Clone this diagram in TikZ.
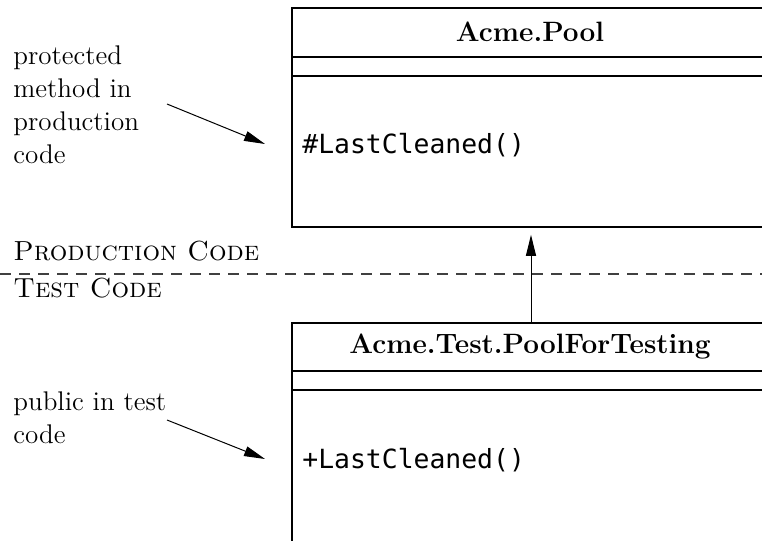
\documentclass[tikz,border=0pt]{standalone}
\usepackage{fontspec}
\usetikzlibrary{arrows.meta}
\newfontfamily\codefont{DejaVu Sans Mono}

\begin{document}
\begin{tikzpicture}[x=0.5pt,y=-0.5pt]
\tikzstyle{classbox}=[draw,line width=0.9pt,anchor=north west,inner sep=0pt,minimum width=239pt,minimum height=109.5pt]
\tikzstyle{classname}=[font=\fontsize{14}{16}\selectfont\bfseries,inner sep=0pt]
\tikzstyle{method}=[font=\fontsize{13.2}{15}\selectfont\codefont,anchor=west,inner sep=0pt]
\tikzstyle{note}=[font=\fontsize{13.5}{16.5}\selectfont,align=left,anchor=base west,inner sep=0pt]
\tikzstyle{layer}=[font=\fontsize{13.8}{15}\selectfont\scshape,anchor=base west,inner sep=0pt]
\tikzstyle{pointer}=[line width=0.5pt,-{Triangle[length=10.5pt,width=5pt]}]
\useasboundingbox (0,0) rectangle (762,541);
% production side
\node [classbox] (pool) at (291,7) {};
\draw [line width=0.9pt] (291,57) -- (769,57);
\draw [line width=0.9pt] (291,76) -- (769,76);
\node [classname] (poolname) at (530,32) {Acme.Pool};
\node [method] (poolop) at (302,145) {\#LastCleaned()};
% test side
\node [classbox] (testpool) at (291,322) {};
\draw [line width=0.9pt] (291,371) -- (769,371);
\draw [line width=0.9pt] (291,390) -- (769,390);
\node [classname] (testpoolname) at (530,346.5) {Acme.Test.PoolForTesting};
\node [method] (testpoolop) at (302,460) {+LastCleaned()};
% layer boundary
\draw [line width=0.8pt,black!75,dash pattern=on 5.5pt off 4pt] (0,274) -- (762,274);
\node [layer] (prodlayer) at (13,260) {Production Code};
\node [layer] (testlayer) at (13,297) {Test Code};
\draw [pointer,shorten >=3.5pt] (testpool.north -| 531,0) -- (pool.south -| 531,0);
% notes
\node [note] (protnote) at (13,163) {protected\\method in\\production\\code};
\node [note] (pubnote) at (13,443) {public in test\\code};
\coordinate (protfrom) at (167,104);
\coordinate (protto) at (265,144);
\coordinate (pubfrom) at (167,420);
\coordinate (pubto) at (265,459);
\draw [pointer] (protfrom) -- (protto);
\draw [pointer] (pubfrom) -- (pubto);
\end{tikzpicture}
\end{document}
